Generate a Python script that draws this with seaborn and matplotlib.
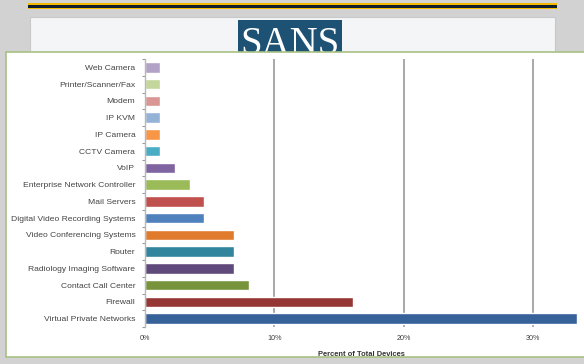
import numpy as np
import pandas as pd
import seaborn as sns
import matplotlib.pyplot as plt
from matplotlib.patches import Rectangle

devices = ["Web Camera", "Printer/Scanner/Fax", "Modem", "IP KVM", "IP Camera",
           "CCTV Camera", "VoIP", "Enterprise Network Controller", "Mail Servers",
           "Digital Video Recording Systems", "Video Conferencing Systems", "Router",
           "Radiology Imaging Software", "Contact Call Center", "Firewall",
           "Virtual Private Networks"]
percent = [1.15, 1.15, 1.15, 1.15, 1.15, 1.15, 2.3, 3.45, 4.6, 4.6, 6.9, 6.9, 6.9, 8.05, 16.1, 33.4]
bar_colors = ["#b3a2c7", "#c3d69b", "#d99694", "#95b3d7", "#f79646", "#4bacc6",
              "#8064a2", "#9bbb59", "#c0504d", "#4f81bd", "#e07b2e", "#31859c",
              "#604a7b", "#77933c", "#953735", "#376199"]
xtick_vals = [0, 10, 20, 30]
xtick_labels = ["0%", "10%", "20%", "30%"]

df = pd.DataFrame({"Device": devices, "Percent": percent})

sns.set_style("white")
plt.rcParams['font.family'] = ['Liberation Sans', 'DejaVu Sans']

W, H = 584, 364
fig = plt.figure(figsize=(W / 100, H / 100), dpi=100)
fig.patch.set_facecolor("#d2d2d2")


def px_rect(x0, y0, x1, y1, **kw):
    # rectangle given in pixel coords (top-left origin)
    r = Rectangle((x0 / W, 1 - y1 / H), (x1 - x0) / W, (y1 - y0) / H,
                  transform=fig.transFigure, **kw)
    fig.add_artist(r)
    return r


# slide header decoration
px_rect(28, 3, 557, 4.8, facecolor="#f2b900", edgecolor="none", zorder=1)
px_rect(28, 4.8, 557, 8, facecolor="#0f1c2e", edgecolor="none", zorder=1)
px_rect(28, 8, 557, 9.4, facecolor="#f2b900", edgecolor="none", zorder=1)
px_rect(30, 17, 555, 60, facecolor="#f4f5f6", edgecolor="#c8c8c8", lw=0.8, zorder=1)
px_rect(238, 20, 342, 60, facecolor="#1d5274", edgecolor="none", zorder=2)
fig.text(290 / W, 1 - 26 / H, "SANS", color="white", fontsize=28,
         family="Liberation Serif", ha="center", va="top", zorder=3)

# chart panel
px_rect(5.5, 52, 600, 357, facecolor="white", edgecolor="#a9c184", lw=1.2, zorder=4)

ax = fig.add_axes([145 / W, 1 - 327 / H, (578 - 145) / W, (327 - 59) / H], zorder=5)
ax.patch.set_alpha(0)

sns.barplot(data=df, x="Percent", y="Device", hue="Device", palette=bar_colors,
            legend=False, width=0.64, orient="h", saturation=1, ax=ax)

ax.set_xlim(0, 33.5)
ax.set_ylim(15.5, -0.5)
ax.set_xticks(xtick_vals)
ax.set_xticklabels(xtick_labels)
ax.xaxis.grid(True, color="#a8a8a8", lw=1.4)
ax.set_axisbelow(True)
for s in ["top", "right", "bottom"]:
    ax.spines[s].set_visible(False)
ax.spines["left"].set_color("#b8b8b8")
ax.spines["left"].set_linewidth(1.0)

ax.set_yticks(np.arange(-0.5, 16, 1), minor=True)
ax.tick_params(axis="y", which="major", length=0, pad=7, labelsize=6.1, labelcolor="#444444")
ax.tick_params(axis="y", which="minor", left=True, length=2.5, width=0.8, color="#9a9a9a")
ax.tick_params(axis="x", length=0, pad=6, labelsize=5.2, labelcolor="#404040")

ax.set_ylabel("")
ax.set_xlabel("Percent of Total Devices", fontsize=5.4, fontweight="bold",
              color="#333333", labelpad=6)

fig.savefig("out.png", dpi=100)
